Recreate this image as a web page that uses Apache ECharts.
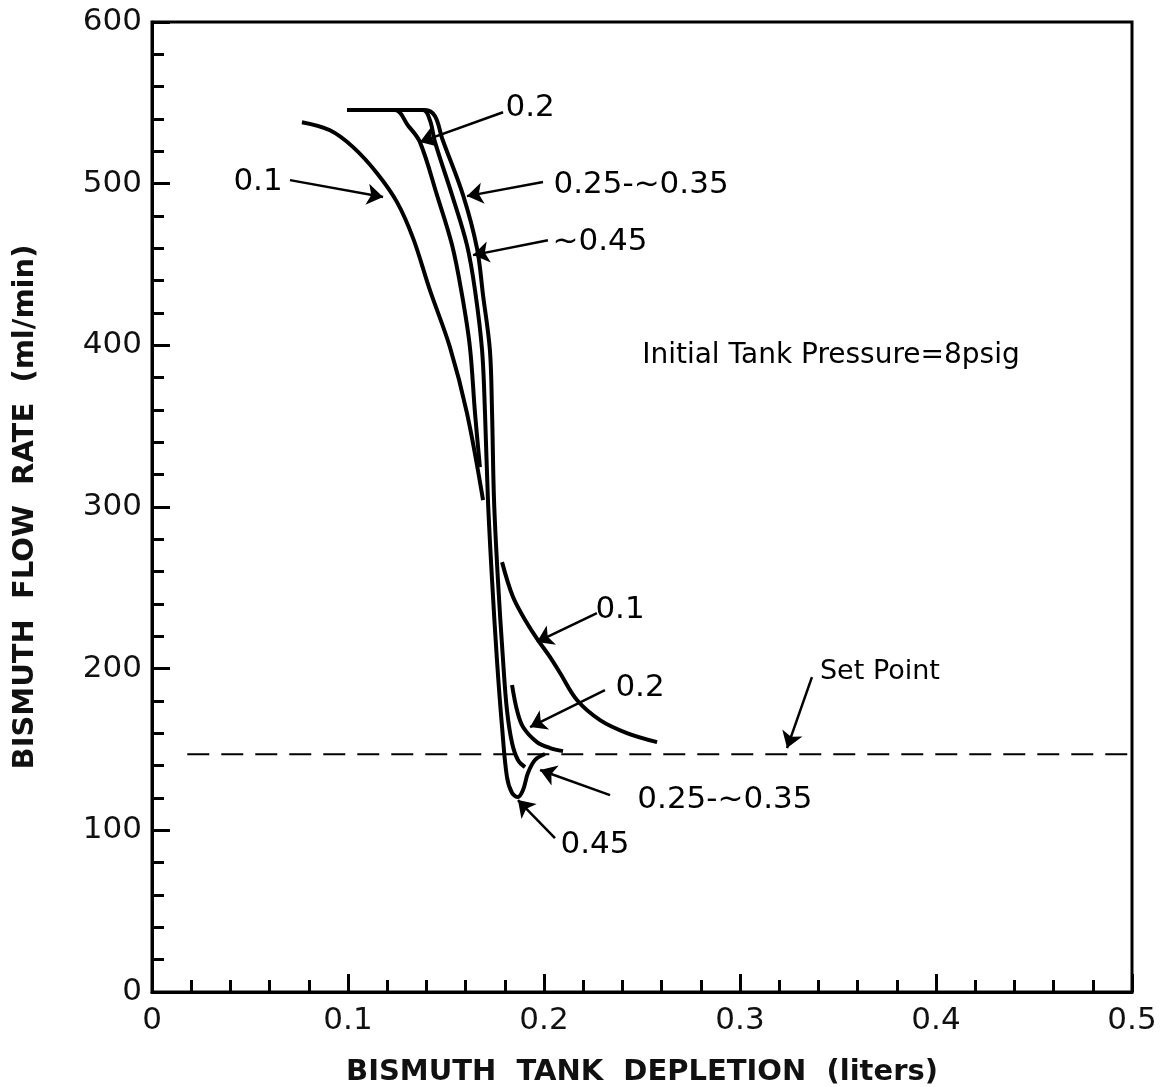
<!DOCTYPE html>
<html>
<head>
<meta charset="utf-8">
<script src="https://cdn.jsdelivr.net/npm/echarts@6/dist/echarts.min.js"></script>
<style>
  html, body { margin: 0; padding: 0; background: #fff; }
  #main { width: 1164px; height: 1087px; }
</style>
</head>
<body>
<div id="main"></div>
<script>
// values: [depletion (liters), flow rate (ml/min)]
var curve01a = [[0.0765,538],[0.0908,533],[0.1026,522.6],[0.1148,506.5],[0.125,488.6],[0.1332,466.3],[0.1418,434.1],[0.152,398.9],[0.1607,358.1],[0.1689,304.3]];
var curve01b = [[0.1786,265.9],[0.1842,244.3],[0.1913,228.2],[0.1969,217.7],[0.2031,207.2],[0.2082,197.3],[0.2168,180.6],[0.2286,168.2],[0.2423,160.2],[0.2577,154.6]];
var curve02a = [[0.0995,545.5],[0.124,545.5],[0.1306,536],[0.1367,525.7],[0.1454,492.9],[0.1531,462],[0.1582,431],[0.1622,398.9],[0.1648,358.1],[0.1673,324.7]];
var curve02b = [[0.1837,189.9],[0.1862,174.4],[0.1893,163.9],[0.1964,154.6],[0.2031,150.9],[0.2097,149]];
var curve045 = [[0.0995,545.5],[0.1383,545.5],[0.1418,539.3],[0.1444,525.7],[0.1531,492.9],[0.1607,462],[0.1648,434.1],[0.1684,397],[0.1699,358.1],[0.1714,304.3],[0.1735,254.8],[0.176,205.3],[0.1786,163.9],[0.1811,133],[0.1837,123.1],[0.1867,120.6],[0.1893,124.9],[0.1918,135.4],[0.1954,143.5],[0.2005,147.2]];
var curve035 = [[0.0995,545.5],[0.1393,545.5],[0.1444,541.7],[0.148,528.1],[0.1587,492.9],[0.1658,460.1],[0.1689,431],[0.1724,397],[0.1735,358.1],[0.1745,304.3],[0.1765,254.8],[0.1791,205.3],[0.1811,174.4],[0.1837,154],[0.1867,143.5],[0.1903,139.1]];
var setPointValue = 147;
var setPointRange = [0.018, 0.5];

// annotation labels: text, label position, arrow tail, arrow tip
var labelTexts = ['0.1', '0.2', '0.25-~0.35', '~0.45', 'Initial Tank Pressure=8psig', '0.1', '0.2', '0.25-~0.35', '0.45', 'Set Point'];
var labelPos = [[0.0541,501],[0.1929,546.7],[0.2495,499],[0.2286,463.8],[0.3464,393.3],[0.2388,236.2],[0.249,188],[0.2923,118.7],[0.226,90.9],[0.3714,197.9]];
var labelSize = [31, 31, 31, 31, 28, 31, 31, 31, 31, 27];
var arrowTail = [[0.0704,502.2],[0.1791,544.2],[0.1995,501],[0.202,465],null,[0.227,234.4],[0.2311,186.8],[0.2337,121.8],[0.2056,95.2],[0.3367,194.8]];
var arrowTip = [[0.1179,491.7],[0.1367,525.7],[0.1607,492.3],[0.1638,455.8],null,[0.1964,216.5],[0.1929,163.9],[0.198,137.3],[0.1867,118.7],[0.324,150.9]];
var arrowBend = [0.05, -0.1, 0.05, 0.08, 0, -0.1, 0, -0.12, 0.1, 0.2];

var FONT = 'DejaVu Sans';

var mychart = echarts.init(document.getElementById('main'));

function curve(name, data) {
    return {
        name: name,
        type: 'line',
        data: data,
        smooth: 0.35,
        showSymbol: false,
        lineStyle: { color: '#000', width: 4 },
        z: 3
    };
}

var arrows = [];
for (var i = 0; i < arrowTail.length; i++) {
    if (!arrowTail[i]) continue;
    arrows.push([
        { coord: arrowTail[i], lineStyle: { curveness: arrowBend[i] } },
        { coord: arrowTip[i] }
    ]);
}

var labels = [];
for (var j = 0; j < labelTexts.length; j++) {
    labels.push({
        coord: labelPos[j],
        value: labelTexts[j],
        label: { fontSize: labelSize[j] }
    });
}

var option = {
    backgroundColor: '#fff',
    animation: false,
    grid: {
        left: 152, top: 22, width: 980, height: 970,
        containLabel: false,
        outerBoundsMode: 'none',
        show: true, borderColor: '#000', borderWidth: 3
    },
    xAxis: {
        type: 'value',
        min: 0, max: 0.5, interval: 0.1,
        name: 'BISMUTH  TANK  DEPLETION  (liters)',
        nameLocation: 'middle',
        nameGap: 66,
        nameTextStyle: { fontFamily: FONT, fontSize: 29, fontWeight: 'bold', color: '#111' },
        axisLine: { lineStyle: { color: '#000', width: 3 } },
        axisTick: { inside: true, length: 18, lineStyle: { color: '#000', width: 3 } },
        minorTick: { show: true, splitNumber: 5, length: 12, lineStyle: { color: '#000', width: 3 } },
        splitLine: { show: false },
        axisLabel: { fontFamily: FONT, fontSize: 31, color: '#111', margin: 13 }
    },
    yAxis: {
        type: 'value',
        min: 0, max: 600, interval: 100,
        name: 'BISMUTH  FLOW  RATE  (ml/min)',
        nameLocation: 'middle',
        nameGap: 112,
        nameRotate: 90,
        nameTextStyle: { fontFamily: FONT, fontSize: 29, fontWeight: 'bold', color: '#111' },
        axisLine: { lineStyle: { color: '#000', width: 3 } },
        axisTick: { inside: true, length: 18, lineStyle: { color: '#000', width: 3 } },
        minorTick: { show: true, splitNumber: 5, length: 12, lineStyle: { color: '#000', width: 3 } },
        splitLine: { show: false },
        axisLabel: { fontFamily: FONT, fontSize: 31, color: '#111', margin: 10 }
    },
    series: [
        curve('0.1', curve01a),
        curve('0.1 b', curve01b),
        curve('0.2', curve02a),
        curve('0.2 b', curve02b),
        curve('0.45', curve045),
        curve('0.25-0.35', curve035),
        {
            name: 'Set Point',
            type: 'line',
            data: [[setPointRange[0], setPointValue], [setPointRange[1], setPointValue]],
            showSymbol: false,
            lineStyle: { color: '#000', width: 2, type: [22, 12] },
            markLine: {
                silent: true,
                symbol: ['none', 'arrow'],
                symbolSize: 16,
                label: { show: false },
                itemStyle: { color: '#000' },
                lineStyle: { color: '#000', width: 2.5, type: 'solid' },
                data: arrows
            },
            markPoint: {
                silent: true,
                symbol: 'circle',
                symbolSize: 0,
                itemStyle: { color: 'rgba(0,0,0,0)' },
                label: {
                    show: true,
                    position: 'inside',
                    fontFamily: FONT,
                    color: '#000',
                    formatter: function (p) { return p.value; }
                },
                data: labels
            }
        }
    ]
};
mychart.setOption(option);
</script>
</body>
</html>
